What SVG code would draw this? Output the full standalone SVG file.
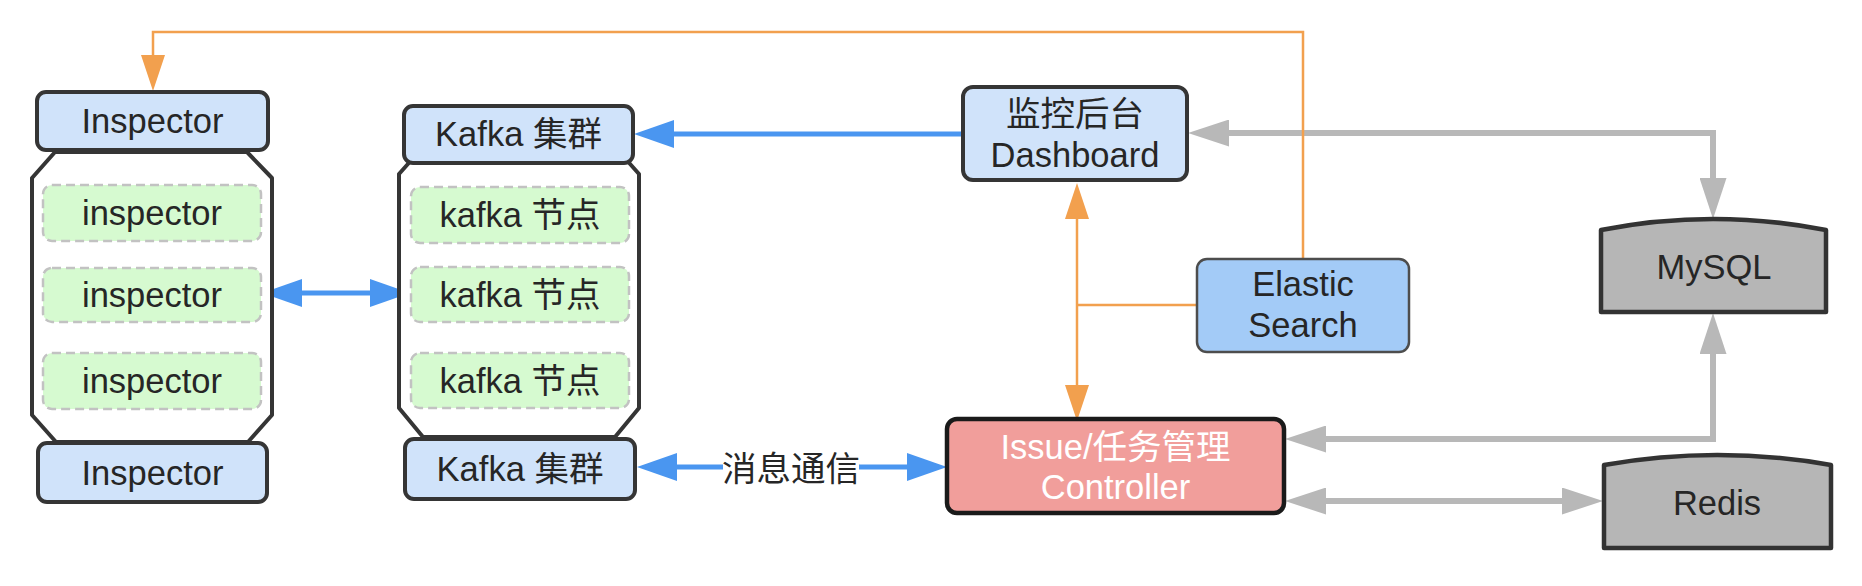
<svg xmlns="http://www.w3.org/2000/svg" width="1862" height="586" viewBox="0 0 1862 586">
<style>
text{font-family:"Liberation Sans","Noto Sans CJK SC",sans-serif;font-size:34.5px;fill:#262626;text-anchor:middle}
.hdr{fill:#d0e3fa;stroke:#353535;stroke-width:4}
.cont{fill:#ffffff;stroke:#353535;stroke-width:4;stroke-linejoin:round}
.item{fill:#d6fad0;stroke:#c2c2c2;stroke-width:2.5;stroke-dasharray:9 5}
.es{fill:#a3cbf7;stroke:#4d4d4d;stroke-width:2.5}
.ctl{fill:#f19e9b;stroke:#1a1a1a;stroke-width:4.5}
.db{fill:#b6b6b6;stroke:#333333;stroke-width:4.5;stroke-linejoin:round}
.white{fill:#ffffff}
.blue{fill:none;stroke:#4a96f0;stroke-width:5}
.gray{fill:none;stroke:#b8b8b8;stroke-width:6}
.orange{fill:none;stroke:#f2a04e;stroke-width:2.5}
</style>
<defs>
<marker id="ab" markerUnits="userSpaceOnUse" markerWidth="40" markerHeight="28" refX="0" refY="14" orient="auto-start-reverse" viewBox="0 0 40 28"><path d="M0,0 L40,14 L0,28 Z" fill="#4a96f0"/></marker>
<marker id="ag" markerUnits="userSpaceOnUse" markerWidth="41" markerHeight="27" refX="0" refY="13.5" orient="auto-start-reverse" viewBox="0 0 41 27"><path d="M0,0 L41,13.5 L0,27 Z" fill="#b8b8b8"/></marker>
<marker id="ao" markerUnits="userSpaceOnUse" markerWidth="36" markerHeight="24" refX="0" refY="12" orient="auto-start-reverse" viewBox="0 0 36 24"><path d="M0,0 L36,12 L0,24 Z" fill="#f2a04e"/></marker>
</defs>

<g id="connectors">
<path class="gray" d="M1229,133 H1713 V178" marker-start="url(#ag)" marker-end="url(#ag)"/>
<path class="gray" d="M1326,439 H1713 V354" marker-start="url(#ag)" marker-end="url(#ag)"/>
<path class="gray" d="M1326,501 H1562" marker-start="url(#ag)" marker-end="url(#ag)"/>
<path class="blue" d="M963,134 H674" marker-end="url(#ab)"/>
<path class="blue" d="M302,293 H370" marker-start="url(#ab)" marker-end="url(#ab)"/>
<path class="blue" d="M677,467 H907" marker-start="url(#ab)" marker-end="url(#ab)"/>
<rect class="white" x="723" y="449" width="136" height="38"/>
<text x="791" y="481">消息通信</text>
<path class="orange" d="M1303,259 V32 H153 V55" marker-end="url(#ao)"/>
<path class="orange" d="M1197,305 H1077"/>
<path class="orange" d="M1077,219 V385" marker-start="url(#ao)" marker-end="url(#ao)"/>
</g>

<g id="inspector-cluster">
<path class="cont" d="M55,152 H247 L272,178 V415 L248,442 H56 L32,415 V178 Z"/>
<g id="inspector-top"><rect class="hdr" x="37" y="92" width="231" height="58" rx="9"/><text x="152.5" y="133">Inspector</text></g>
<g id="inspector-1"><rect class="item" x="43" y="185" width="218" height="56" rx="9"/><text x="152" y="225">inspector</text></g>
<g id="inspector-2"><rect class="item" x="43" y="268" width="218" height="54" rx="9"/><text x="152" y="307">inspector</text></g>
<g id="inspector-3"><rect class="item" x="43" y="353" width="218" height="56" rx="9"/><text x="152" y="393">inspector</text></g>
<g id="inspector-bottom"><rect class="hdr" x="38" y="443" width="229" height="59" rx="9"/><text x="152.5" y="485">Inspector</text></g>
</g>

<g id="kafka-cluster">
<path class="cont" d="M423,147 H615 L639,174 V408 L615,437 H423 L399,408 V174 Z"/>
<g id="kafka-top"><rect class="hdr" x="404" y="106" width="229" height="57" rx="9"/><text x="518.5" y="146">Kafka 集群</text></g>
<g id="kafka-1"><rect class="item" x="411" y="187" width="218" height="56" rx="9"/><text x="520" y="227">kafka 节点</text></g>
<g id="kafka-2"><rect class="item" x="411" y="267" width="218" height="55" rx="9"/><text x="520" y="307">kafka 节点</text></g>
<g id="kafka-3"><rect class="item" x="411" y="353" width="218" height="55" rx="9"/><text x="520" y="393">kafka 节点</text></g>
<g id="kafka-bottom"><rect class="hdr" x="405" y="439" width="230" height="60" rx="9"/><text x="520" y="481">Kafka 集群</text></g>
</g>

<g id="dashboard">
<rect class="hdr" x="963" y="87" width="224" height="93" rx="10"/>
<text x="1075" y="126">监控后台</text>
<text x="1075" y="167">Dashboard</text>
</g>

<g id="elastic-search">
<rect class="es" x="1197" y="259" width="212" height="93" rx="10"/>
<text x="1303" y="296">Elastic</text>
<text x="1303" y="337">Search</text>
</g>

<g id="controller">
<rect class="ctl" x="947" y="419" width="337" height="94" rx="10"/>
<text x="1115.5" y="459" style="fill:#ffffff">Issue/任务管理</text>
<text x="1115.5" y="499" style="fill:#ffffff">Controller</text>
</g>

<g id="mysql">
<path class="db" d="M1601,230 Q1713,208 1826,230 V312 H1601 Z"/>
<text x="1714" y="279">MySQL</text>
</g>

<g id="redis">
<path class="db" d="M1604,465 Q1717,445 1831,465 V548 H1604 Z"/>
<text x="1717" y="515">Redis</text>
</g>
</svg>
